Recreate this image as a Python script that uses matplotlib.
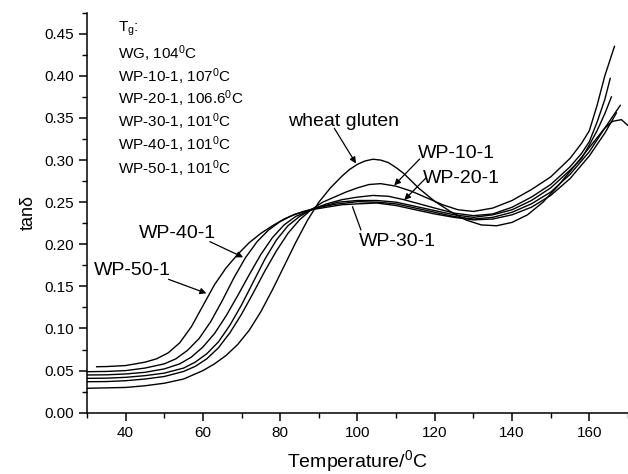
import numpy as np
import matplotlib
matplotlib.use('Agg')
import matplotlib.pyplot as plt
from matplotlib.ticker import MultipleLocator, FormatStrFormatter

plt.rcParams['font.family'] = ['Liberation Sans', 'DejaVu Sans']
plt.rcParams['mathtext.fontset'] = 'custom'
plt.rcParams['mathtext.rm'] = 'Liberation Sans'
plt.rcParams['mathtext.it'] = 'Liberation Sans:italic'

# tan delta curves
T_wg = [30, 35, 40, 45, 50, 55, 60, 63, 66, 69, 72, 75, 78, 81, 84, 87, 90, 93, 96, 98, 100,
        102, 104, 106, 108, 110, 112, 116, 120, 124, 128, 132, 136, 140, 144, 148, 152, 156, 160,
        164, 166, 168.3, 170]
y_wg = [0.029, 0.0295, 0.030, 0.032, 0.035, 0.040, 0.050, 0.058, 0.068, 0.081, 0.098, 0.120, 0.146,
        0.174, 0.202, 0.228, 0.250, 0.267, 0.281, 0.289, 0.295, 0.299, 0.301, 0.300, 0.297, 0.291,
        0.284, 0.266, 0.251, 0.239, 0.229, 0.223, 0.222, 0.226, 0.235, 0.250, 0.270, 0.292, 0.315,
        0.338, 0.346, 0.348, 0.341]

T_10 = [30, 35, 40, 45, 50, 55, 58, 61, 64, 67, 70, 73, 76, 79, 82, 85, 88, 91, 94, 97, 100,
        103, 106, 110, 114, 118, 122, 126, 130, 135, 140, 145, 150, 155, 158, 160, 162, 164, 166.5]
y_10 = [0.0368, 0.037, 0.038, 0.040, 0.043, 0.049, 0.055, 0.064, 0.077, 0.095, 0.117, 0.142, 0.168,
        0.192, 0.213, 0.229, 0.241, 0.250, 0.256, 0.262, 0.267, 0.271, 0.272, 0.269, 0.263, 0.255,
        0.247, 0.241, 0.239, 0.243, 0.252, 0.265, 0.280, 0.302, 0.320, 0.335, 0.365, 0.400, 0.435]

T_20 = [30, 35, 40, 45, 50, 55, 58, 61, 64, 67, 70, 73, 76, 79, 82, 85, 88, 92, 96, 100, 104,
        108, 112, 116, 120, 125, 130, 135, 140, 145, 150, 155, 158, 160, 162, 164, 165.4]
y_20 = [0.0408, 0.041, 0.042, 0.044, 0.047, 0.053, 0.060, 0.070, 0.084, 0.104, 0.128, 0.155, 0.182,
        0.205, 0.222, 0.233, 0.241, 0.248, 0.253, 0.256, 0.258, 0.257, 0.253, 0.248, 0.243, 0.237,
        0.234, 0.236, 0.244, 0.256, 0.271, 0.292, 0.308, 0.322, 0.345, 0.372, 0.397]

T_30 = [30, 35, 40, 45, 50, 54, 57, 60, 63, 66, 69, 72, 75, 78, 81, 84, 87, 90, 95, 100, 105,
        110, 115, 120, 125, 130, 135, 140, 145, 150, 155, 158, 160, 162, 164, 165.7]
y_30 = [0.0448, 0.045, 0.046, 0.048, 0.052, 0.058, 0.066, 0.078, 0.094, 0.115, 0.139, 0.164, 0.188,
        0.208, 0.223, 0.233, 0.239, 0.244, 0.250, 0.252, 0.252, 0.250, 0.245, 0.240, 0.235, 0.232,
        0.235, 0.241, 0.252, 0.267, 0.288, 0.302, 0.318, 0.335, 0.355, 0.375]

T_40 = [30, 35, 40, 45, 50, 53, 56, 59, 62, 65, 68, 71, 74, 77, 80, 83, 86, 90, 95, 100, 105,
        110, 115, 120, 125, 130, 135, 140, 145, 150, 155, 160, 164, 168]
y_40 = [0.0487, 0.049, 0.050, 0.053, 0.058, 0.064, 0.074, 0.088, 0.108, 0.133, 0.160, 0.184, 0.203,
        0.217, 0.227, 0.234, 0.239, 0.244, 0.248, 0.2506, 0.250, 0.248, 0.243, 0.238, 0.233, 0.230,
        0.232, 0.238, 0.248, 0.262, 0.283, 0.310, 0.338, 0.365]

T_50 = [32.5, 35, 40, 45, 48, 51, 54, 57, 60, 63, 66, 69, 72, 75, 78, 81, 84, 88, 92, 96, 100,
        105, 110, 115, 120, 125, 130, 135, 140, 145, 150, 155, 160, 164, 167]
y_50 = [0.0546, 0.0548, 0.056, 0.060, 0.064, 0.071, 0.083, 0.102, 0.127, 0.152, 0.172, 0.188, 0.202,
        0.213, 0.222, 0.230, 0.236, 0.241, 0.244, 0.247, 0.248, 0.249, 0.246, 0.241, 0.236, 0.232,
        0.229, 0.230, 0.235, 0.244, 0.258, 0.278, 0.305, 0.332, 0.356]

tg_lines = [r'T$_\mathrm{g}$:', r'WG, 104$^\mathrm{0}$C', r'WP-10-1, 107$^\mathrm{0}$C',
            r'WP-20-1, 106.6$^\mathrm{0}$C', r'WP-30-1, 101$^\mathrm{0}$C',
            r'WP-40-1, 101$^\mathrm{0}$C', r'WP-50-1, 101$^\mathrm{0}$C']
tg_y = [0.4525, 0.4201, 0.3925, 0.3666, 0.3391, 0.3114, 0.2837]

fig = plt.figure(figsize=(6.28, 4.74), dpi=100)
ax = fig.add_axes([0.1385, 0.1293, 0.8615, 0.8439])

for T, y in [(T_wg, y_wg), (T_10, y_10), (T_20, y_20), (T_30, y_30), (T_40, y_40), (T_50, y_50)]:
    ax.plot(T, y, color='black', lw=1.0, solid_joinstyle='round')

ax.set_xlim(30, 170)
ax.set_ylim(0, 0.475)
ax.xaxis.set_minor_locator(MultipleLocator(10))
ax.set_xticks([40, 60, 80, 100, 120, 140, 160])
ax.yaxis.set_major_locator(MultipleLocator(0.05))
ax.yaxis.set_minor_locator(MultipleLocator(0.025))
ax.yaxis.set_major_formatter(FormatStrFormatter('%.2f'))
ax.spines['top'].set_visible(False)
ax.spines['right'].set_visible(False)
for s in ['left', 'bottom']:
    ax.spines[s].set_linewidth(1.1)
ax.tick_params(which='major', direction='out', length=6, width=1.1, labelsize=11)
ax.tick_params(which='minor', direction='out', length=3.5, width=1.0)

ax.set_xlabel(r'Temperature/$^\mathrm{0}$C', fontsize=14, labelpad=6)
ax.set_ylabel('tanδ', fontsize=13, labelpad=5)

# Tg listing, upper left
for txt, yy in zip(tg_lines, tg_y):
    ax.text(38.0, yy, txt, fontsize=11, va='baseline', ha='left')

# curve labels with pointers
ax.text(96.4, 0.3405, 'wheat gluten', fontsize=14, ha='center', va='baseline')
ax.text(125.6, 0.3021, 'WP-10-1', fontsize=14, ha='center', va='baseline')
ax.text(127.0, 0.2724, 'WP-20-1', fontsize=14, ha='center', va='baseline')
ax.text(110.3, 0.198, 'WP-30-1', fontsize=14, ha='center', va='baseline')
ax.text(53.4, 0.2071, 'WP-40-1', fontsize=14, ha='center', va='baseline')
ax.text(41.7, 0.1635, 'WP-50-1', fontsize=14, ha='center', va='baseline')

arw = dict(arrowstyle='-|>', color='black', lw=0.9, mutation_scale=9, shrinkA=0, shrinkB=0)
ax.annotate('', xy=(99.6, 0.296), xytext=(94.0, 0.3378), arrowprops=arw)
ax.annotate('', xy=(109.5, 0.270), xytext=(116.1, 0.3013), arrowprops=arw)
ax.annotate('', xy=(112.1, 0.2526), xytext=(117.7, 0.2787), arrowprops=arw)
ax.annotate('', xy=(98.7, 0.2447), xytext=(100.9, 0.217),
            arrowprops=dict(arrowstyle='-', color='black', lw=0.9, shrinkA=0, shrinkB=0))
ax.annotate('', xy=(70.4, 0.1846), xytext=(61.8, 0.2031), arrowprops=arw)
ax.annotate('', xy=(60.9, 0.1418), xytext=(51.1, 0.1584), arrowprops=arw)

fig.savefig('out.png', dpi=100)
